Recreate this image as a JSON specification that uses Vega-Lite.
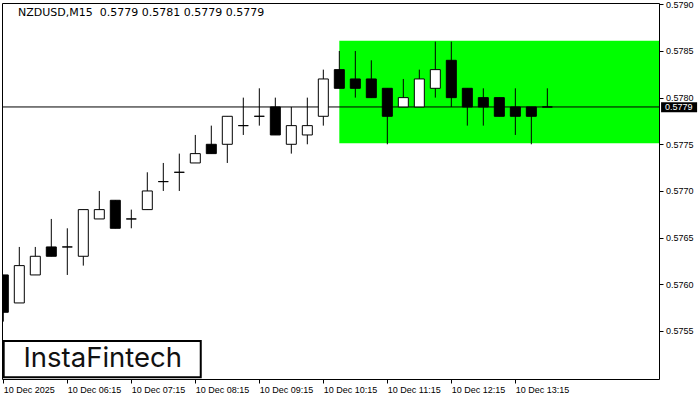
{
  "$schema": "https://vega.github.io/schema/vega-lite/v6.json",
  "autosize": "none",
  "width": 657,
  "height": 376,
  "padding": {"left": 2, "top": 3, "right": 41, "bottom": 21},
  "background": "white",
  "title": {
    "text": "NZDUSD,M15 \u00a00.5779 0.5781 0.5779 0.5779",
    "anchor": "start",
    "frame": "group",
    "orient": "top",
    "offset": 0,
    "dx": 16,
    "dy": 18,
    "font": "DejaVu Sans",
    "fontSize": 11,
    "fontWeight": "normal",
    "color": "#000000"
  },
  "datasets": {
    "candles": [
      {"t": "2025-12-10T05:15:00Z", "open": 0.5761, "high": 0.5761, "low": 0.5756, "close": 0.5757},
      {"t": "2025-12-10T05:30:00Z", "open": 0.5758, "high": 0.5764, "low": 0.5758, "close": 0.5762},
      {"t": "2025-12-10T05:45:00Z", "open": 0.5761, "high": 0.5764, "low": 0.5761, "close": 0.5763},
      {"t": "2025-12-10T06:00:00Z", "open": 0.5764, "high": 0.5767, "low": 0.5763, "close": 0.5763},
      {"t": "2025-12-10T06:15:00Z", "open": 0.5764, "high": 0.5766, "low": 0.5761, "close": 0.5764},
      {"t": "2025-12-10T06:30:00Z", "open": 0.5763, "high": 0.5768, "low": 0.5762, "close": 0.5768},
      {"t": "2025-12-10T06:45:00Z", "open": 0.5767, "high": 0.5770, "low": 0.5767, "close": 0.5768},
      {"t": "2025-12-10T07:00:00Z", "open": 0.5769, "high": 0.5769, "low": 0.5766, "close": 0.5766},
      {"t": "2025-12-10T07:15:00Z", "open": 0.5767, "high": 0.5768, "low": 0.5766, "close": 0.5767},
      {"t": "2025-12-10T07:30:00Z", "open": 0.5768, "high": 0.5772, "low": 0.5768, "close": 0.5770},
      {"t": "2025-12-10T07:45:00Z", "open": 0.5771, "high": 0.5773, "low": 0.5770, "close": 0.5771},
      {"t": "2025-12-10T08:00:00Z", "open": 0.5772, "high": 0.5774, "low": 0.5770, "close": 0.5772},
      {"t": "2025-12-10T08:15:00Z", "open": 0.5773, "high": 0.5776, "low": 0.5773, "close": 0.5774},
      {"t": "2025-12-10T08:30:00Z", "open": 0.5775, "high": 0.5777, "low": 0.5774, "close": 0.5774},
      {"t": "2025-12-10T08:45:00Z", "open": 0.5775, "high": 0.5778, "low": 0.5773, "close": 0.5778},
      {"t": "2025-12-10T09:00:00Z", "open": 0.5777, "high": 0.5780, "low": 0.5776, "close": 0.5777},
      {"t": "2025-12-10T09:15:00Z", "open": 0.5778, "high": 0.5781, "low": 0.5777, "close": 0.5778},
      {"t": "2025-12-10T09:30:00Z", "open": 0.5779, "high": 0.5780, "low": 0.5776, "close": 0.5776},
      {"t": "2025-12-10T09:45:00Z", "open": 0.5775, "high": 0.5779, "low": 0.5774, "close": 0.5777},
      {"t": "2025-12-10T10:00:00Z", "open": 0.5776, "high": 0.5780, "low": 0.5775, "close": 0.5777},
      {"t": "2025-12-10T10:15:00Z", "open": 0.5778, "high": 0.5783, "low": 0.5777, "close": 0.5782},
      {"t": "2025-12-10T10:30:00Z", "open": 0.5783, "high": 0.5785, "low": 0.5781, "close": 0.5781},
      {"t": "2025-12-10T10:45:00Z", "open": 0.5782, "high": 0.5785, "low": 0.5780, "close": 0.5781},
      {"t": "2025-12-10T11:00:00Z", "open": 0.5782, "high": 0.5784, "low": 0.5780, "close": 0.5780},
      {"t": "2025-12-10T11:15:00Z", "open": 0.5781, "high": 0.5781, "low": 0.5775, "close": 0.5778},
      {"t": "2025-12-10T11:30:00Z", "open": 0.5779, "high": 0.5782, "low": 0.5779, "close": 0.5780},
      {"t": "2025-12-10T11:45:00Z", "open": 0.5779, "high": 0.5783, "low": 0.5779, "close": 0.5782},
      {"t": "2025-12-10T12:00:00Z", "open": 0.5781, "high": 0.5786, "low": 0.5780, "close": 0.5783},
      {"t": "2025-12-10T12:15:00Z", "open": 0.5784, "high": 0.5786, "low": 0.5779, "close": 0.5780},
      {"t": "2025-12-10T12:30:00Z", "open": 0.5781, "high": 0.5781, "low": 0.5777, "close": 0.5779},
      {"t": "2025-12-10T12:45:00Z", "open": 0.5780, "high": 0.5781, "low": 0.5777, "close": 0.5779},
      {"t": "2025-12-10T13:00:00Z", "open": 0.5780, "high": 0.5780, "low": 0.5778, "close": 0.5778},
      {"t": "2025-12-10T13:15:00Z", "open": 0.5779, "high": 0.5781, "low": 0.5776, "close": 0.5778},
      {"t": "2025-12-10T13:30:00Z", "open": 0.5779, "high": 0.5779, "low": 0.5775, "close": 0.5778},
      {"t": "2025-12-10T13:45:00Z", "open": 0.5779, "high": 0.5781, "low": 0.5779, "close": 0.5779}
    ],
    "zone": [
      {"start": "2025-12-10T10:30:00Z", "low": 0.57751, "high": 0.57861}
    ]
  },
  "layer": [
    {
      "data": {"name": "candles"},
      "mark": {"type": "rule", "color": "#000000", "strokeWidth": 1, "clip": true, "opacity": 0},
      "encoding": {
        "x": {"field": "t", "type": "temporal", "title": null,
              "scale": {"type": "utc", "domain": [{"year": 2025, "month": 12, "date": 10, "hours": 5, "minutes": 13, "seconds": 47, "utc": true}, {"year": 2025, "month": 12, "date": 10, "hours": 15, "minutes": 29, "seconds": 41, "utc": true}]},
              "axis": {
                "title": null,
                "values": [
                  {"year": 2025, "month": 12, "date": 10, "hours": 5, "minutes": 15, "utc": true},
                  {"year": 2025, "month": 12, "date": 10, "hours": 6, "minutes": 15, "utc": true},
                  {"year": 2025, "month": 12, "date": 10, "hours": 7, "minutes": 15, "utc": true},
                  {"year": 2025, "month": 12, "date": 10, "hours": 8, "minutes": 15, "utc": true},
                  {"year": 2025, "month": 12, "date": 10, "hours": 9, "minutes": 15, "utc": true},
                  {"year": 2025, "month": 12, "date": 10, "hours": 10, "minutes": 15, "utc": true},
                  {"year": 2025, "month": 12, "date": 10, "hours": 11, "minutes": 15, "utc": true},
                  {"year": 2025, "month": 12, "date": 10, "hours": 12, "minutes": 15, "utc": true},
                  {"year": 2025, "month": 12, "date": 10, "hours": 13, "minutes": 15, "utc": true}
                ],
                "labelExpr": "utchours(datum.value) == 5 ? '10 Dec 2025' : utcFormat(datum.value, '%d %b %H:%M')",
                "grid": false, "domain": false, "ticks": true, "tickSize": 4, "tickColor": "#000000",
                "labelAlign": "left", "labelBaseline": "top", "labelPadding": 2, "labelFlush": false, "labelOverlap": false,
                "labelFont": "Liberation Sans", "labelFontSize": 9, "labelColor": "#000000"
              }},
        "y": {"field": "low", "type": "quantitative", "title": null,
              "scale": {"domain": [0.574985, 0.579014], "zero": false, "nice": false},
              "axis": {
                "title": null, "orient": "right",
                "values": [0.5755, 0.576, 0.5765, 0.577, 0.5775, 0.578, 0.5785, 0.579],
                "format": ".4f",
                "grid": false, "domain": false, "ticks": true, "tickSize": 4, "tickColor": "#000000",
                "labelPadding": 2.5, "labelBaseline": "middle", "labelFlush": false, "labelOverlap": false,
                "labelFont": "Liberation Sans", "labelFontSize": 9, "labelColor": "#000000"
              }},
        "y2": {"field": "high"}
      }
    },
    {
      "data": {"name": "zone"},
      "mark": {"type": "rect", "color": "#00ff00", "clip": true},
      "encoding": {
        "x": {"field": "start", "type": "temporal", "title": null},
        "x2": {"datum": {"year": 2025, "month": 12, "date": 10, "hours": 15, "minutes": 29, "seconds": 41, "utc": true}},
        "y": {"field": "low", "type": "quantitative", "title": null},
        "y2": {"field": "high"}
      }
    },
    {
      "data": {"values": [{"price": 0.5779}]},
      "mark": {"type": "rule", "color": "#000000", "strokeWidth": 1},
      "encoding": {
        "y": {"field": "price", "type": "quantitative", "title": null}
      }
    },
    {
      "data": {"name": "candles"},
      "mark": {"type": "rule", "color": "#000000", "strokeWidth": 1, "clip": true},
      "encoding": {
        "x": {"field": "t", "type": "temporal", "title": null},
        "y": {"field": "low", "type": "quantitative", "title": null},
        "y2": {"field": "high"}
      }
    },
    {
      "data": {"name": "candles"},
      "transform": [{"filter": "datum.close >= datum.open"}],
      "mark": {"type": "bar", "width": 10, "fill": "#ffffff", "stroke": "#000000", "strokeWidth": 1, "clip": true},
      "encoding": {
        "x": {"field": "t", "type": "temporal", "title": null},
        "y": {"field": "open", "type": "quantitative", "title": null},
        "y2": {"field": "close"}
      }
    },
    {
      "data": {"name": "candles"},
      "transform": [{"filter": "datum.close < datum.open"}],
      "mark": {"type": "bar", "width": 10, "fill": "#000000", "stroke": "#000000", "strokeWidth": 1, "clip": true},
      "encoding": {
        "x": {"field": "t", "type": "temporal", "title": null},
        "y": {"field": "open", "type": "quantitative", "title": null},
        "y2": {"field": "close"}
      }
    },
    {
      "data": {"values": [{"label": "InstaFintech"}]},
      "mark": {"type": "rect", "fill": "#ffffff", "stroke": "#000000", "strokeWidth": 2},
      "encoding": {
        "x": {"datum": {"year": 2025, "month": 12, "date": 10, "hours": 5, "minutes": 15, "seconds": 22, "utc": true}, "type": "temporal", "title": null},
        "x2": {"datum": {"year": 2025, "month": 12, "date": 10, "hours": 8, "minutes": 20, "seconds": 6, "utc": true}},
        "y": {"datum": 0.575393, "type": "quantitative", "title": null},
        "y2": {"datum": 0.575004}
      }
    },
    {
      "data": {"values": [{"label": "InstaFintech"}]},
      "mark": {"type": "text", "font": "Inter", "fontSize": 27.5, "fontWeight": 400, "color": "#111111", "align": "center", "baseline": "middle"},
      "encoding": {
        "x": {"datum": {"year": 2025, "month": 12, "date": 10, "hours": 6, "minutes": 48, "seconds": 12, "utc": true}, "type": "temporal", "title": null},
        "y": {"datum": 0.5752, "type": "quantitative", "title": null},
        "text": {"field": "label"}
      }
    },
    {
      "data": {"values": [{"label": "0.5779"}]},
      "mark": {"type": "rect", "fill": "#000000"},
      "encoding": {
        "x": {"datum": {"year": 2025, "month": 12, "date": 10, "hours": 15, "minutes": 31, "seconds": 38, "utc": true}, "type": "temporal", "title": null},
        "x2": {"datum": {"year": 2025, "month": 12, "date": 10, "hours": 16, "minutes": 5, "seconds": 24, "utc": true}},
        "y": {"datum": 0.577951, "type": "quantitative", "title": null},
        "y2": {"datum": 0.577844}
      }
    },
    {
      "data": {"values": [{"label": "0.5779"}]},
      "mark": {"type": "text", "font": "Liberation Sans", "fontSize": 9, "color": "#ffffff", "align": "left", "baseline": "middle"},
      "encoding": {
        "x": {"datum": {"year": 2025, "month": 12, "date": 10, "hours": 15, "minutes": 35, "seconds": 22, "utc": true}, "type": "temporal", "title": null},
        "y": {"datum": 0.5779, "type": "quantitative", "title": null},
        "text": {"field": "label"}
      }
    }
  ],
  "config": {
    "view": {"stroke": "#000000", "strokeWidth": 1},
    "font": "Liberation Sans",
    "scale": {"continuousPadding": 0},
    "axis": {"grid": false, "domain": false}
  }
}
